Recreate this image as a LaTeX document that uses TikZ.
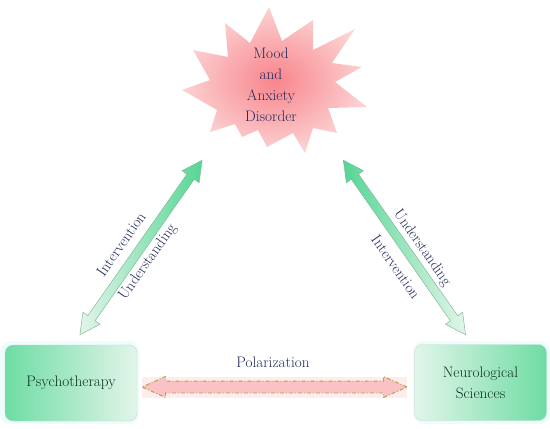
\documentclass[tikz,border=0pt]{standalone}
\usetikzlibrary{shapes.arrows,calc}
\definecolor{txt}{HTML}{222A5C}
\definecolor{boxtxt}{HTML}{0E3020}
\definecolor{gstrong}{HTML}{55D693}
\definecolor{gmid}{HTML}{A6E8C6}
\definecolor{gpale}{HTML}{E2F5EA}
\definecolor{gline}{HTML}{86B89E}
\definecolor{pstrong}{HTML}{F7777F}
\definecolor{plight}{HTML}{FCD2D2}
\definecolor{parstrong}{HTML}{F5676F}
\definecolor{parlight}{HTML}{FAC2C4}
\definecolor{pglow}{HTML}{FDEDED}
\definecolor{olive}{HTML}{B0A03A}
\definecolor{glow}{HTML}{EEFCFB}
\begin{document}
\begin{tikzpicture}[x=1pt,y=-1pt,font=\fontsize{15.2}{21}\selectfont,
  box/.style={rounded corners=8pt,minimum width=132pt,minimum height=76pt,text=boxtxt,align=center,draw=gline!50,line width=0.4pt},
  garrow/.style={double arrow,inner xsep=0pt,inner ysep=4.2pt,double arrow head extend=6pt,double arrow tip angle=55,draw=gline,line width=0.5pt},
  parrow/.style={double arrow,inner xsep=0pt,inner ysep=5.5pt,double arrow head extend=4.5pt,double arrow tip angle=48,draw=olive,line width=0.9pt,dash pattern=on 4pt off 2pt on 1pt off 2pt},
  lab/.style={text=txt,inner sep=1pt}]
\useasboundingbox (0,0) rectangle (550,429);
% star
\shade[inner color=pstrong!90,outer color=plight]
 (269,7) -- (282,41) -- (313,20) -- (313,50) -- (355,29) -- (332,63) -- (362,67) -- (335,82)
 -- (367,107) -- (328,108) -- (337,133) -- (313,128) -- (305,153) -- (293,133) -- (267,147)
 -- (258,130) -- (242,137) -- (235,124) -- (210,132) -- (217,110) -- (182,90) -- (210,80)
 -- (193,50) -- (228,57) -- (225,23) -- (250,43) -- cycle;
\node[text=txt,align=center,inner sep=0pt] (mood) at (271,85) {Mood\\and\\Anxiety\\Disorder};
% boxes
\fill[glow,rounded corners=10pt] (0,341) rectangle (139,424);
\fill[glow,rounded corners=10pt] (413,341) rectangle (550,424);
\node[box,left color=gstrong!85,right color=gpale] (psy) at (71,383) {Psychotherapy};
\node[box,left color=gpale,right color=gstrong!85] (neuro) at (480.5,382.5) {Neurological\\Sciences};
% left arrow
\coordinate (l1) at (80,335);
\coordinate (l2) at (202,160);
\node[garrow,minimum height=213pt,rotate=55,left color=gpale,middle color=gmid,right color=gstrong] (larr) at ($(l1)!0.5!(l2)$) {};
\node[lab,rotate=55] (lint) at (121,244) {Intervention};
\node[lab,rotate=55] (lund) at (148,262) {Understanding};
% right arrow
\coordinate (r1) at (343,160);
\coordinate (r2) at (466,335);
\node[garrow,minimum height=213pt,rotate=-55,left color=gstrong,middle color=gmid,right color=gpale] (rarr) at ($(r1)!0.5!(r2)$) {};
\node[lab,rotate=-55] (rund) at (422,248) {Understanding};
\node[lab,rotate=-55] (rint) at (396,267) {Intervention};
% polarization
\fill[pglow] (142,377) rectangle (407,398);
\node[parrow,minimum height=265pt,left color=parlight,middle color=parstrong,right color=parlight] (pol) at (274.5,387) {};
\node[lab] (polt) at (273,362) {Polarization};
\end{tikzpicture}
\end{document}
